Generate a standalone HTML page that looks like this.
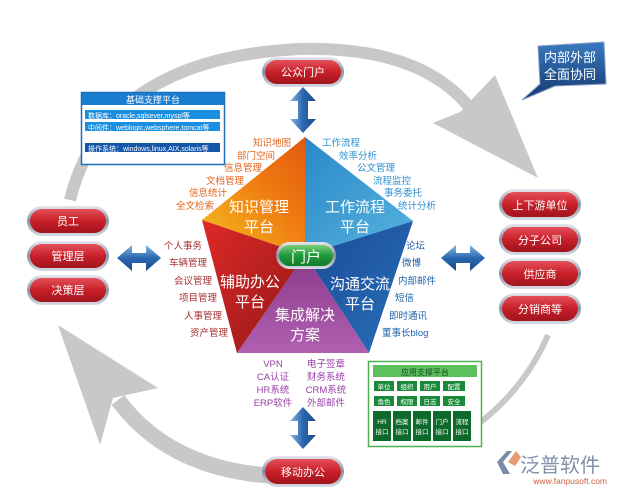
<!DOCTYPE html>
<html><head><meta charset="utf-8"><style>
html,body{margin:0;padding:0;background:#fff;width:618px;height:493px;overflow:hidden}
svg text{font-family:"Liberation Sans","Noto Sans CJK SC",sans-serif}
</style></head><body>
<svg width="618" height="493" viewBox="0 0 618 493" xmlns="http://www.w3.org/2000/svg">
<defs>
<linearGradient id="red" x1="0" y1="0" x2="0" y2="1"><stop offset="0" stop-color="#e4505a"/><stop offset="0.5" stop-color="#c8202a"/><stop offset="1" stop-color="#a0141c"/></linearGradient>
<linearGradient id="sil" x1="0" y1="0" x2="0" y2="1"><stop offset="0" stop-color="#e8e8ee"/><stop offset="0.5" stop-color="#8890a0"/><stop offset="1" stop-color="#d8dce4"/></linearGradient>
<linearGradient id="grn" x1="0" y1="0" x2="0" y2="1"><stop offset="0" stop-color="#7cd07a"/><stop offset="0.5" stop-color="#1e9a3a"/><stop offset="1" stop-color="#137a2a"/></linearGradient>
<linearGradient id="org" x1="0" y1="1" x2="1" y2="0"><stop offset="0" stop-color="#f4c020"/><stop offset="0.6" stop-color="#f07a10"/><stop offset="1" stop-color="#e05a10"/></linearGradient>
<linearGradient id="lb" x1="0" y1="0" x2="1" y2="1"><stop offset="0" stop-color="#2a88c8"/><stop offset="1" stop-color="#56b4e0"/></linearGradient>
<linearGradient id="db" x1="0" y1="0" x2="1" y2="1"><stop offset="0" stop-color="#1a4a98"/><stop offset="1" stop-color="#2a70b8"/></linearGradient>
<linearGradient id="pur" x1="0" y1="0" x2="0" y2="1"><stop offset="0" stop-color="#8a3a8a"/><stop offset="1" stop-color="#b060b0"/></linearGradient>
<linearGradient id="rd" x1="0" y1="0" x2="1" y2="1"><stop offset="0" stop-color="#e02828"/><stop offset="1" stop-color="#901818"/></linearGradient>
<linearGradient id="arr" x1="0" y1="0" x2="0" y2="1"><stop offset="0" stop-color="#8ab8e0"/><stop offset="0.5" stop-color="#2a68b0"/><stop offset="1" stop-color="#1a4a88"/></linearGradient>
<linearGradient id="arrv" x1="0" y1="0" x2="1" y2="0"><stop offset="0" stop-color="#8ab8e0"/><stop offset="0.5" stop-color="#2a68b0"/><stop offset="1" stop-color="#1a4a88"/></linearGradient>
<linearGradient id="cal" x1="0" y1="0" x2="0" y2="1"><stop offset="0" stop-color="#3a7ac0"/><stop offset="1" stop-color="#14386e"/></linearGradient>
</defs>

<g fill="none" stroke="#c8c8c8" stroke-linecap="butt">
<path d="M70,200 Q105,58 300,49 Q420,46 470,108" stroke-width="12"/>
<path d="M548,335 Q520,400 455,440" stroke-width="6"/>
<path d="M275,476 Q170,470 118,400" stroke-width="16"/>
</g>
<polygon points="433,123 460,112 495,75 538,178" fill="#c8c8c8"/>
<polygon points="58,325 158,388 113,398 100,445" fill="#c8c8c8"/>

<path d="M538,46 L604,42 L606,84 L555,86 L522,100 L540,84 Z" fill="url(#cal)" stroke="#8aa0c8" stroke-width="1"/>
<text x="570" y="62" font-size="13" fill="#fff" text-anchor="middle">内部外部</text>
<text x="570" y="79" font-size="13" fill="#fff" text-anchor="middle">全面协同</text>

<rect x="81.5" y="92.5" width="143" height="72" fill="#fff" stroke="#1a6ec0" stroke-width="1.5"/>
<rect x="82" y="93" width="142" height="12" fill="#1a7ed0"/>
<text x="153" y="103" font-size="9" fill="#fff" text-anchor="middle">基础支撑平台</text>
<rect x="85" y="110" width="135" height="9" fill="#1a8ee0"/>
<text x="88" y="118" font-size="7" fill="#fff">数据库：oracle,sqlsever,myspl等</text>
<rect x="85" y="122" width="135" height="9" fill="#1a8ee0"/>
<text x="88" y="130" font-size="7" fill="#fff">中间件：weblogic,websphere,tomcat等</text>
<rect x="85" y="143" width="135" height="9" fill="#1456a8"/>
<text x="88" y="151" font-size="7" fill="#fff">操作系统：windows,linux,AIX,solaris等</text>

<rect x="368.5" y="361.5" width="113" height="85" fill="#fff" stroke="#50b050" stroke-width="1.5"/>
<rect x="373" y="365" width="104" height="12" fill="#5cc05c"/>
<text x="425" y="375" font-size="8" fill="#145020" text-anchor="middle">应用支撑平台</text>
<g fill="#1a8a3a">
<rect x="374" y="381" width="20" height="10"/><rect x="397" y="381" width="20" height="10"/><rect x="420" y="381" width="20" height="10"/><rect x="443" y="381" width="22" height="10"/>
<rect x="374" y="396" width="20" height="10"/><rect x="397" y="396" width="20" height="10"/><rect x="420" y="396" width="20" height="10"/><rect x="443" y="396" width="22" height="10"/>
</g>
<g fill="#0e6a2a">
<rect x="373" y="411" width="18" height="30"/><rect x="393" y="411" width="18" height="30"/><rect x="413" y="411" width="18" height="30"/><rect x="433" y="411" width="18" height="30"/><rect x="453" y="411" width="18" height="30"/>
</g>
<g font-size="6.5" fill="#fff" text-anchor="middle">
<text x="384" y="389">单位</text><text x="407" y="389">组织</text><text x="430" y="389">用户</text><text x="454" y="389">配置</text>
<text x="384" y="404">角色</text><text x="407" y="404">权限</text><text x="430" y="404">日志</text><text x="454" y="404">安全</text>
<text x="382" y="424">HR</text><text x="402" y="424">档案</text><text x="422" y="424">邮件</text><text x="442" y="424">门户</text><text x="462" y="424">流程</text>
<text x="382" y="434">接口</text><text x="402" y="434">接口</text><text x="422" y="434">接口</text><text x="442" y="434">接口</text><text x="462" y="434">接口</text>
</g>

<polygon points="305,137 202,220 305,255" fill="url(#org)"/>
<polygon points="305,137 413,221 305,255" fill="url(#lb)"/>
<polygon points="413,221 369,353 305,255" fill="url(#db)"/>
<polygon points="369,353 237,353 305,255" fill="url(#pur)"/>
<polygon points="237,353 202,220 305,255" fill="url(#rd)"/>
<g font-size="15" fill="#fff" text-anchor="middle">
<text x="259" y="212">知识管理</text><text x="259" y="232">平台</text>
<text x="355" y="212">工作流程</text><text x="355" y="232">平台</text>
<text x="250" y="287">辅助办公</text><text x="250" y="307">平台</text>
<text x="360" y="289">沟通交流</text><text x="360" y="309">平台</text>
<text x="305" y="320">集成解决</text><text x="305" y="340">方案</text>
</g>
<rect x="276" y="242" width="60" height="27" rx="13.5" fill="url(#sil)"/>
<rect x="279" y="245" width="54" height="21" rx="10.5" fill="url(#grn)"/>
<text x="306" y="262" font-size="15" fill="#fff" text-anchor="middle">门户</text>

<g font-size="9.5" fill="#e2641e" text-anchor="end">
<text x="291" y="146">知识地图</text><text x="275" y="159">部门空间</text><text x="262" y="171">信息管理</text><text x="244" y="184">文档管理</text><text x="227" y="196">信息统计</text><text x="214" y="209">全文检索</text>
</g>
<g font-size="9.5" fill="#2a90d2">
<text x="322" y="146">工作流程</text><text x="339" y="159">效率分析</text><text x="357" y="171">公文管理</text><text x="373" y="184">流程监控</text><text x="384" y="196">事务委托</text><text x="398" y="209">统计分析</text>
</g>
<g font-size="9.5" fill="#1f60a8">
<text x="406" y="249">论坛</text><text x="402" y="266">微博</text><text x="398" y="284">内部邮件</text><text x="395" y="301">短信</text><text x="389" y="319">即时通讯</text><text x="382" y="336">董事长blog</text>
</g>
<g font-size="9.5" fill="#a83030" text-anchor="end">
<text x="202" y="249">个人事务</text><text x="207" y="266">车辆管理</text><text x="212" y="284">会议管理</text><text x="217" y="301">项目管理</text><text x="222" y="319">人事管理</text><text x="228" y="336">资产管理</text>
</g>
<g font-size="9.5" fill="#9840a8" text-anchor="middle">
<text x="273" y="367">VPN</text><text x="273" y="380">CA认证</text><text x="273" y="393">HR系统</text><text x="273" y="406">ERP软件</text>
<text x="326" y="367">电子签章</text><text x="326" y="380">财务系统</text><text x="326" y="393">CRM系统</text><text x="326" y="406">外部邮件</text>
</g>

<polygon points="303,87 316,101 308,101 308,119 316,119 303,133 290,119 298,119 298,101 290,101" fill="url(#arrv)"/>
<polygon points="303,407 316,421 308,421 308,435 316,435 303,449 290,435 298,435 298,421 290,421" fill="url(#arrv)"/>
<polygon points="117,258 132,245 132,253 146,253 146,245 161,258 146,271 146,263 132,263 132,271" fill="url(#arr)"/>
<polygon points="441,258 456,245 456,253 470,253 470,245 485,258 470,271 470,263 456,263 456,271" fill="url(#arr)"/>

<g>
<rect x="262" y="57" width="82" height="30" rx="15" fill="url(#sil)"/><rect x="265" y="60" width="76" height="24" rx="12" fill="url(#red)"/>
<rect x="262" y="456" width="82" height="31" rx="15.5" fill="url(#sil)"/><rect x="265" y="459" width="76" height="25" rx="12.5" fill="url(#red)"/>
<rect x="27" y="206" width="82" height="30" rx="15" fill="url(#sil)"/><rect x="30" y="209" width="76" height="24" rx="12" fill="url(#red)"/>
<rect x="27" y="241" width="82" height="30" rx="15" fill="url(#sil)"/><rect x="30" y="244" width="76" height="24" rx="12" fill="url(#red)"/>
<rect x="27" y="275" width="82" height="30" rx="15" fill="url(#sil)"/><rect x="30" y="278" width="76" height="24" rx="12" fill="url(#red)"/>
<rect x="499" y="189" width="82" height="31" rx="15.5" fill="url(#sil)"/><rect x="502" y="192" width="76" height="25" rx="12.5" fill="url(#red)"/>
<rect x="499" y="224" width="82" height="31" rx="15.5" fill="url(#sil)"/><rect x="502" y="227" width="76" height="25" rx="12.5" fill="url(#red)"/>
<rect x="499" y="258" width="82" height="31" rx="15.5" fill="url(#sil)"/><rect x="502" y="261" width="76" height="25" rx="12.5" fill="url(#red)"/>
<rect x="499" y="293" width="82" height="31" rx="15.5" fill="url(#sil)"/><rect x="502" y="296" width="76" height="25" rx="12.5" fill="url(#red)"/>
</g>
<g font-size="11" fill="#fff" text-anchor="middle">
<text x="303" y="76">公众门户</text>
<text x="303" y="476">移动办公</text>
<text x="68" y="225">员工</text><text x="68" y="260">管理层</text><text x="68" y="294">决策层</text>
<text x="540" y="209">上下游单位</text><text x="540" y="244">分子公司</text><text x="540" y="278">供应商</text><text x="540" y="313">分销商等</text>
</g>

<polygon points="497,462 507,451 512,451 503,462 510,474 503,474" fill="#7a8aa8"/>
<polygon points="508,462 516,451 521,457 515,466" fill="#e89a70"/>
<text x="520" y="472" font-size="20" fill="#8290a8">泛普软件</text>
<text x="607" y="484" font-size="8.5" fill="#c86040" text-anchor="end" font-family="Liberation Serif,serif">www.fanpusoft.com</text>
</svg>
</body></html>
